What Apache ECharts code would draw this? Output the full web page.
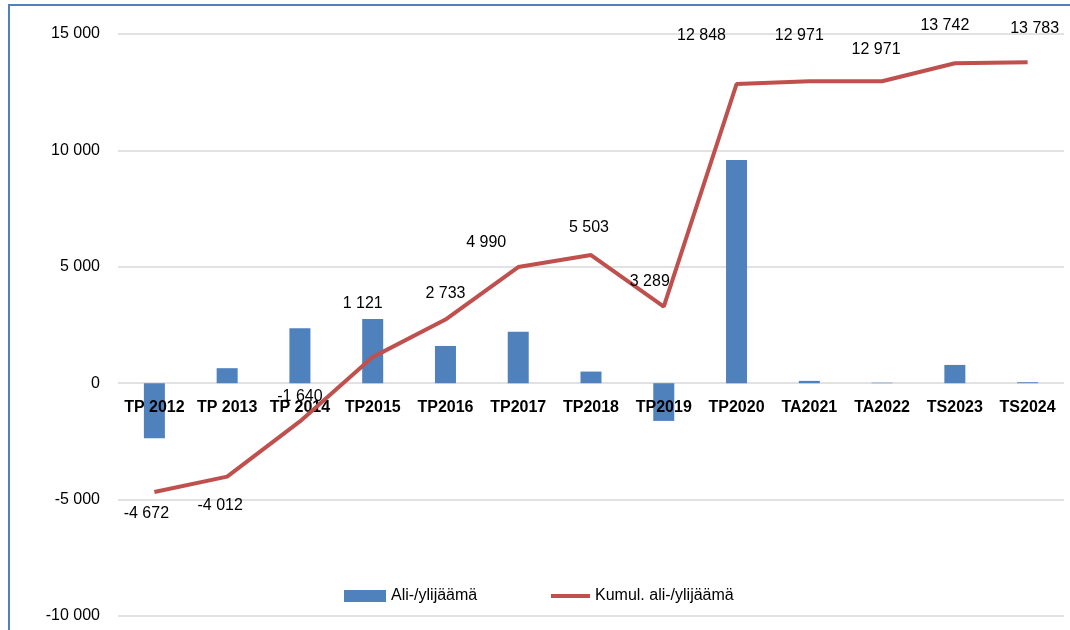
<!DOCTYPE html>
<html>
<head>
<meta charset="utf-8">
<script src="https://cdn.jsdelivr.net/npm/echarts@6/dist/echarts.min.js"></script>
<style>
  html, body { margin: 0; padding: 0; background: #fff; }
  #wrap { position: relative; width: 1070px; height: 630px; overflow: hidden; }
  #frame { position: absolute; left: 8px; top: 4px; width: 2000px; height: 2000px;
           border-left: 2px solid #4F81BD; border-top: 2px solid #4F81BD; pointer-events: none; }
  #chart { position: absolute; left: 0; top: 0; width: 1070px; height: 630px; }
</style>
</head>
<body>
<div id="wrap">
  <div id="chart"></div>
  <div id="frame"></div>
</div>
<script>
const categories = ['TP 2012', 'TP 2013', 'TP 2014', 'TP2015', 'TP2016', 'TP2017', 'TP2018',
  'TP2019', 'TP2020', 'TA2021', 'TA2022', 'TS2023', 'TS2024'];
// yearly surplus/deficit (bars)
const surplus = [-2360, 645, 2360, 2760, 1600, 2215, 500, -1620, 9585, 100, 20, 785, 41];
// cumulative (line)
const cumulative = [-4672, -4012, -1640, 1121, 2733, 4990, 5503, 3289, 12848, 12971, 12971, 13742, 13783];
const seriesNames = ['Ali-/ylijäämä', 'Kumul. ali-/ylijäämä'];
const yTicks = { min: -10000, max: 15000, interval: 5000 };

// label placement relative to each line point (like the manual Excel layout)
const labelOffsets = [[-8, 22], [-7, 29], [0, -25], [-10, -54], [0, -26], [-32, -24], [-2, -27],
  [-14, -25], [-35, -49], [-10, -46], [-6, -32], [-10, -38], [7, -34]];

const FONT = 'Liberation Sans';
const BLUE = '#4F81BD';
const RED = '#C0504D';
const GRID = { left: 118, right: 6, top: 34, bottom: 14 };
const fmt = v => {
  const s = Math.abs(Math.round(v)).toString().replace(/\B(?=(\d{3})+(?!\d))/g, ' ');
  return (v < 0 ? '-' : '') + s;
};

// category labels sit on the zero line: shift the x axis up from the grid bottom
const plotH = 630 - GRID.top - GRID.bottom;
const zeroShift = plotH * (0 - yTicks.min) / (yTicks.max - yTicks.min);

const chart = echarts.init(document.getElementById('chart'));

chart.setOption({
  animation: false,
  textStyle: { fontFamily: FONT },
  grid: Object.assign({ containLabel: false, outerBoundsMode: 'none' }, GRID),
  legend: [
    {
      data: [{ name: seriesNames[0], icon: 'rect', itemStyle: { color: BLUE } }],
      left: 344, top: 588, padding: 0, itemWidth: 42, itemHeight: 12,
      textStyle: { fontFamily: FONT, fontSize: 16, color: '#000' }
    },
    {
      data: [{ name: seriesNames[1], icon: 'rect', itemStyle: { color: RED } }],
      left: 551, top: 588, padding: 0, itemWidth: 39, itemHeight: 4,
      textStyle: { fontFamily: FONT, fontSize: 16, color: '#000' }
    }
  ],
  xAxis: {
    type: 'category',
    data: categories,
    z: 3,
    position: 'bottom',
    offset: -zeroShift,
    axisLine: { show: false, onZero: false },
    axisTick: { show: false },
    axisLabel: { color: '#000', fontWeight: 'bold', fontSize: 16, fontFamily: FONT, margin: 16, interval: 0 }
  },
  yAxis: {
    type: 'value',
    min: yTicks.min, max: yTicks.max, interval: yTicks.interval,
    axisLine: { show: false },
    axisTick: { show: false },
    splitLine: { lineStyle: { color: '#D9D9D9', width: 1.5 } },
    axisLabel: { color: '#000', fontSize: 16, fontFamily: FONT, margin: 18, formatter: fmt }
  },
  series: [
    {
      name: seriesNames[0],
      type: 'bar',
      data: surplus,
      barWidth: 21,
      z: 2,
      itemStyle: { color: BLUE }
    },
    {
      name: seriesNames[1],
      type: 'line',
      z: 4,
      data: cumulative.map((v, i) => ({
        value: v,
        label: { offset: labelOffsets[i] }
      })),
      symbol: 'circle',
      symbolSize: 1,
      showSymbol: true,
      lineStyle: { color: RED, width: 4 },
      itemStyle: { color: 'rgba(0,0,0,0)' },
      label: {
        show: true,
        position: 'inside',
        color: '#000',
        fontSize: 16,
        fontFamily: FONT,
        formatter: p => fmt(p.value)
      }
    }
  ]
});
</script>
</body>
</html>
